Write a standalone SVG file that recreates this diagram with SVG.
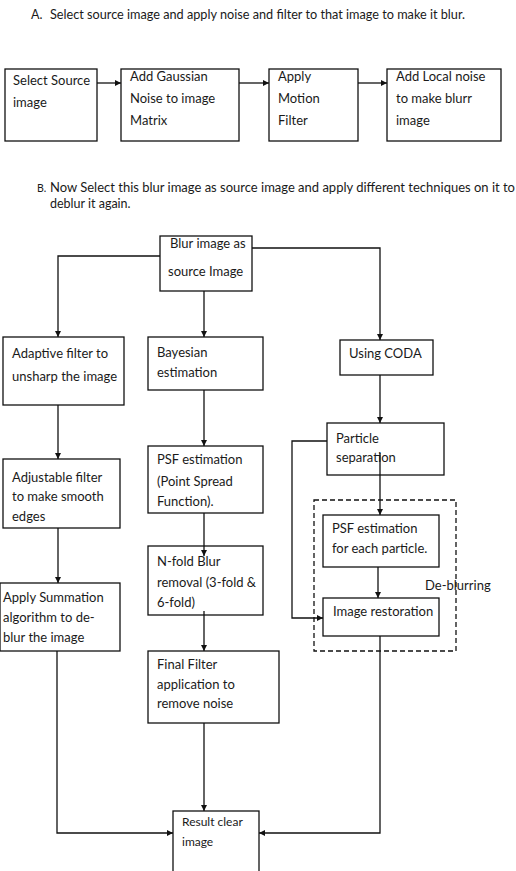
<svg xmlns="http://www.w3.org/2000/svg" width="516" height="871" viewBox="0 0 516 871">
<style>
text{font-family:Lato,"Liberation Sans",sans-serif;font-size:13px;fill:#1a1a1a}
.hd{font-size:12.5px}
.sm{font-size:12px}
.box{fill:#fff;stroke:#111;stroke-width:1.3}
.dash{fill:none;stroke:#111;stroke-width:1.3;stroke-dasharray:5,3}
.ln{fill:none;stroke:#111;stroke-width:1.3}
.ar{fill:none;stroke:#111;stroke-width:1.3;marker-end:url(#ah)}
</style>
<defs>
<marker id="ah" viewBox="0 0 10 10" refX="10" refY="5" markerWidth="6" markerHeight="6" markerUnits="userSpaceOnUse" orient="auto">
<path d="M0,0 L10,5 L0,10 z" fill="#111"/>
</marker>
</defs>
<rect width="516" height="871" fill="#fff"/>
<g id="headers">
<text class="hd" x="31" y="19">A.</text>
<text class="hd" x="50" y="19" textLength="415" lengthAdjust="spacingAndGlyphs">Select source image and apply noise and filter to that image to make it blur.</text>
<text class="hd" x="37" y="192" style="font-size:10.5px">B.</text>
<text class="hd" x="50" y="192" textLength="465" lengthAdjust="spacingAndGlyphs">Now Select this blur image as source image and apply different techniques on it to</text>
<text class="hd" x="50" y="208">deblur it again.</text>
</g>
<g id="connectors">
<path class="ar" d="M97,83 H121"/>
<path class="ar" d="M239,83 H269"/>
<path class="ar" d="M358,83 H387"/>
<path class="ar" d="M160,256 H58 V337"/>
<path class="ar" d="M204,291 V337"/>
<path class="ar" d="M252,248 H380 V340"/>
<path class="ar" d="M58,405 V459"/>
<path class="ar" d="M58,528 V583"/>
<path class="ar" d="M57,651 V833 H173"/>
<path class="ar" d="M204,390 V446"/>
<path class="ar" d="M204,723 V811"/>
<path class="ar" d="M380,375 V423"/>
<path class="ar" d="M378,567 V598"/>
<path class="ar" d="M327,441 H292 V618 H323"/>
<path class="ar" d="M380,636 V833 H259"/>
</g>
<g id="n1"><rect class="box" x="5" y="69" width="92" height="72"/><text x="13" y="85">Select Source</text><text x="13" y="107">image</text></g>
<g id="n2"><rect class="box" x="121" y="69" width="118" height="72"/><text x="130" y="81">Add Gaussian</text><text x="130" y="103">Noise to image</text><text x="130" y="125">Matrix</text></g>
<g id="n3"><rect class="box" x="269" y="69" width="89" height="72"/><text x="278" y="81">Apply</text><text x="278" y="103">Motion</text><text x="278" y="125">Filter</text></g>
<g id="n4"><rect class="box" x="387" y="69" width="114" height="72"/><text x="396" y="81">Add Local noise</text><text x="396" y="103">to make blurr</text><text x="396" y="125">image</text></g>
<g id="blur"><rect class="box" x="160" y="236" width="92" height="55"/><text x="170" y="248">Blur image as</text><text x="168" y="276">source Image</text></g>
<g id="adaptive"><rect class="box" x="3" y="337" width="121" height="68"/><text x="12" y="358">Adaptive filter to</text><text x="12" y="381">unsharp the image</text></g>
<g id="bayesian"><rect class="box" x="148" y="337" width="115" height="53"/><text x="157" y="357">Bayesian</text><text x="157" y="377">estimation</text></g>
<g id="coda"><rect class="box" x="340" y="340" width="93" height="35"/><text x="349" y="358">Using CODA</text></g>
<g id="adjustable"><rect class="box" x="3" y="459" width="117" height="69"/><text x="12" y="482">Adjustable filter</text><text x="12" y="501">to make smooth</text><text x="12" y="521">edges</text></g>
<g id="psf"><rect class="box" x="148" y="446" width="115" height="67"/><text x="157" y="464">PSF estimation</text><text x="157" y="486">(Point Spread</text><text x="157" y="506">Function).</text></g>
<g id="particle"><rect class="box" x="327" y="423" width="117" height="52"/><text x="336" y="443">Particle</text><text x="336" y="462">separation</text></g>
<g id="deblurring"><rect class="dash" x="314" y="500" width="142" height="151"/><text x="425" y="590">De-blurring</text></g>
<g id="psfeach"><rect class="box" x="323" y="515" width="116" height="52"/><text x="332" y="533">PSF estimation</text><text x="332" y="553">for each particle.</text></g>
<g id="restoration"><rect class="box" x="323" y="598" width="116" height="38"/><text x="333" y="616">Image restoration</text></g>
<g id="summation"><rect class="box" x="0" y="583" width="120" height="68"/><text x="3" y="602">Apply Summation</text><text x="3" y="622">algorithm to de-</text><text x="3" y="642">blur the image</text></g>
<g id="nfold"><rect class="box" x="148" y="546" width="115" height="69"/><text x="157" y="566">N-fold Blur</text><text x="157" y="587">removal (3-fold &amp;</text><text x="157" y="607">6-fold)</text></g>
<g id="final"><rect class="box" x="148" y="651" width="131" height="72"/><text x="157" y="669">Final Filter</text><text x="157" y="689">application to</text><text x="157" y="708">remove noise</text></g>
<g id="result"><rect class="box" x="173" y="811" width="86" height="70"/><text class="sm" x="182" y="826">Result clear</text><text class="sm" x="182" y="846">image</text></g>
<g id="connectors-inner">
<path class="ar" d="M204,513 V556"/>
<path class="ln" d="M204,611 V615"/>
<path class="ar" d="M204,615 V651"/>
<path class="ar" d="M380,453 V515"/>
</g>
</svg>
